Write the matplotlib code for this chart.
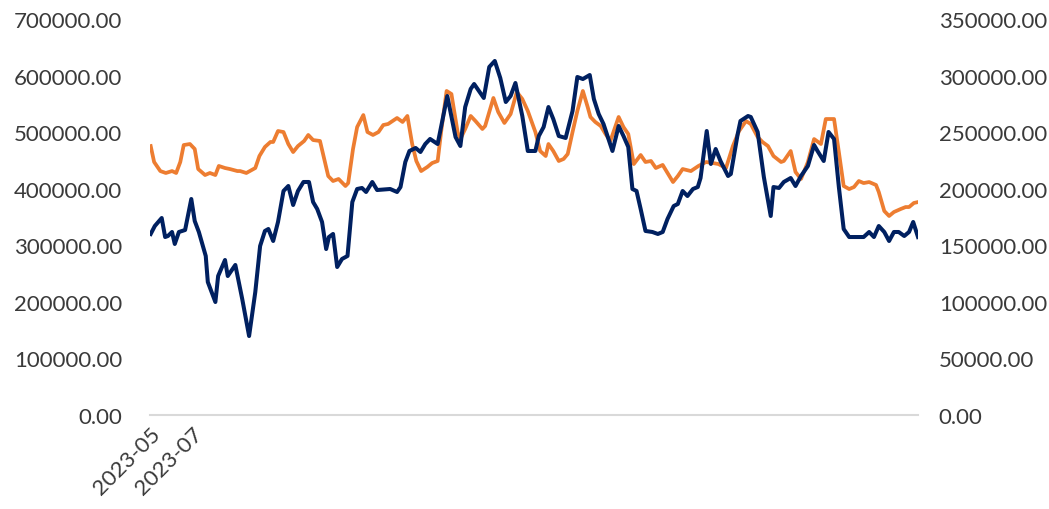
import matplotlib
matplotlib.use("Agg")
import matplotlib.pyplot as plt
from matplotlib.ticker import FuncFormatter, MultipleLocator

# Navy series (left axis): days since 2023-05-01, value
navy_days = [1, 7, 17, 22, 26, 32, 36, 42, 51, 60, 65, 71, 81, 84, 95, 99, 109, 113, 124, 134,
             144, 153, 160, 167, 172, 179, 186, 194, 201, 208, 215, 223, 231, 237, 243, 250, 256, 260, 266, 272,
             279, 287, 294, 301, 308, 314, 323, 330, 349, 359, 364, 371, 377, 386, 393, 400, 407, 418, 432, 444,
             451, 458, 466, 471, 485, 493, 501, 509, 517, 524, 531, 541, 549, 560, 565, 572, 579, 586, 594, 604,
             614, 621, 629, 639, 645, 652, 659, 672, 681, 688, 695, 701, 707, 713, 720, 730, 738, 745, 752, 761,
             767, 774, 781, 789, 796, 800, 809, 815, 822, 829, 840, 844, 854, 858, 869, 873, 883, 892, 902, 906,
             914, 921, 931, 938, 946, 956, 965, 970, 979, 986, 994, 1001, 1008, 1016, 1037, 1045, 1052, 1059, 1067, 1074,
             1081, 1088, 1096, 1103, 1109, 1116]
navy_vals = [320000, 334100, 348200, 314600, 316400, 323500, 302300, 323500, 327000, 381800,
             342900, 323500, 281100, 235100, 199700, 245700, 274000, 245700, 265200, 205100,
             139600, 217400, 298700, 325300, 328800, 307600, 341200, 396000, 404800, 371200,
             396000, 411900, 411900, 376500, 364100, 341200, 293400, 314600, 320000, 261600,
             275800, 281100, 376500, 399500, 401300, 394200, 411900, 397700, 399500, 394200,
             403000, 447200, 466700, 472000, 464900, 479000, 487900, 479000, 563900, 491400,
             475500, 544400, 576300, 585100, 560400, 615200, 625800, 595700, 553300, 563900,
             586900, 528500, 466700, 466700, 493200, 509100, 544400, 523200, 493200, 489700,
             537400, 597500, 593900, 601000, 558600, 532100, 514400, 466700, 510900, 493200,
             473700, 399500, 396000, 364100, 325300, 323500, 320000, 323500, 346500, 369400,
             373000, 396000, 387100, 399500, 403000, 418900, 502000, 443700, 470200, 449000,
             422500, 426000, 496700, 519700, 528500, 526800, 500300, 420700, 351800, 403000,
             401300, 411900, 418900, 404800, 422500, 440200, 477300, 466700, 449000, 500300,
             487900, 403000, 328800, 314600, 314600, 323500, 314600, 334100, 323500, 307600,
             323500, 323500, 316400, 323500, 341200, 314600]

# Orange series (right axis)
orange_days = [1, 6, 15, 23, 32, 38, 44, 49, 58, 65, 70, 80, 87, 95, 100, 109, 116, 127, 131, 140,
               153, 159, 167, 175, 179, 186, 194, 201, 208, 215, 224, 230, 237, 247, 255, 259, 266, 274, 284, 288,
               295, 301, 310, 316, 324, 332, 339, 346, 359, 367, 374, 381, 387, 394, 403, 410, 418, 423, 431, 438,
               447, 451, 458, 466, 473, 483, 487, 499, 506, 515, 524, 533, 541, 549, 560, 567, 575, 579, 586, 594,
               601, 607, 614, 621, 629, 636, 640, 647, 655, 662, 669, 681, 688, 695, 703, 713, 720, 728, 735, 745,
               760, 767, 774, 786, 797, 808, 818, 826, 837, 847, 856, 866, 873, 883, 890, 898, 906, 917, 921, 931,
               938, 946, 956, 965, 975, 982, 994, 1001, 1008, 1016, 1023, 1030, 1037, 1045, 1055, 1059, 1067, 1074, 1081, 1091,
               1098, 1103, 1110, 1116]
orange_vals = [237700, 223600, 215600, 213900, 215600, 213900, 223600, 238600, 239500, 235100,
               217400, 212100, 213900, 212100, 220100, 218300, 217400, 215600, 215600, 213900,
               218300, 228900, 236900, 241300, 241300, 251000, 250100, 239500, 232400, 237700,
               242200, 247500, 243000, 242200, 221800, 211200, 206800, 208600, 202400, 205000,
               235100, 254500, 265100, 250100, 247500, 250100, 256300, 257200, 262500, 259000,
               264300, 239500, 224500, 215600, 219200, 222700, 224500, 250100, 286400, 283700,
               250100, 243900, 252800, 264300, 259800, 252800, 255400, 280200, 267800, 258100,
               266000, 285500, 279300, 268700, 250100, 233300, 228900, 239500, 233300, 224500,
               226300, 230700, 250100, 268700, 286400, 272200, 263400, 259000, 255400, 248300,
               242200, 263400, 254500, 248300, 221800, 229800, 223600, 224500, 218300, 221000,
               205900, 211200, 217400, 215600, 220100, 223600, 222700, 221800, 218300, 237700,
               251000, 259800, 257200, 245700, 241300, 237700, 228900, 223600, 224500, 233300,
               214800, 208600, 223600, 243900, 239500, 261600, 261600, 232400, 202400, 199700,
               201500, 206800, 205000, 205900, 203300, 197100, 180300, 175900, 179400, 182100,
               183800, 183800, 187400, 188200]

tick_days = [0, 61]
tick_labels = ["2023-05", "2023-07"]

NAVY = "#002060"
ORANGE = "#ED7D31"
TXT = "#3a3a3a"

plt.rcParams['font.family'] = ['Lato', 'DejaVu Sans']

fig = plt.figure(figsize=(10.49, 5.10), dpi=100)
ax = fig.add_axes([150/1049, 1 - 416/510, (918-150)/1049, (416-20)/510])
ax2 = ax.twinx()

ax2.plot(orange_days, orange_vals, color=ORANGE, lw=2.7, solid_joinstyle='round')
ax.plot(navy_days, navy_vals, color=NAVY, lw=2.9, solid_joinstyle='round')
ax.set_zorder(ax2.get_zorder() + 1)
ax.patch.set_visible(False)

ax.set_xlim(min(navy_days), max(navy_days))
ax.set_ylim(0, 700000)
ax2.set_ylim(0, 350000)
ax.yaxis.set_major_locator(MultipleLocator(100000))
ax2.yaxis.set_major_locator(MultipleLocator(50000))
fmt = FuncFormatter(lambda v, p: f"{v:.2f}")
ax.yaxis.set_major_formatter(fmt)
ax2.yaxis.set_major_formatter(fmt)

ax.set_xticks(tick_days)
ax.set_xticklabels(tick_labels, rotation=45, ha='right', rotation_mode='anchor')

for a in (ax, ax2):
    for s in a.spines.values():
        s.set_visible(False)
    a.tick_params(length=0, labelsize=16, labelcolor=TXT)
ax.spines['bottom'].set_visible(True)
ax.spines['bottom'].set_color('#d9d9d9')
ax.spines['bottom'].set_linewidth(1.5)
ax.tick_params(axis='y', pad=20)
ax2.tick_params(axis='y', pad=15)
ax.tick_params(axis='x', pad=6)

fig.savefig("out.png", dpi=100)
